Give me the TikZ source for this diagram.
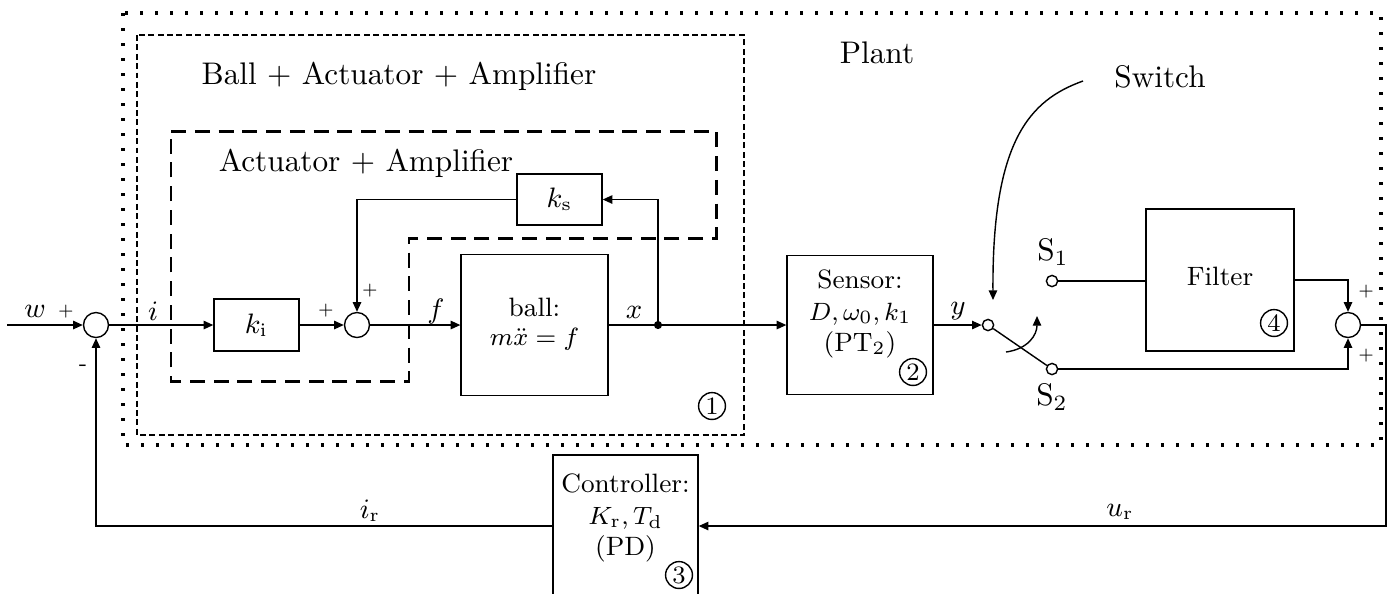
\documentclass[tikz,border=0pt]{standalone}
\usetikzlibrary{arrows.meta}
\begin{document}
\begin{tikzpicture}[x=0.32pt,y=-0.32pt,line width=0.45pt,
  arr/.style={-{Triangle[length=3.1pt,width=2.7pt]}},
  blk/.style={draw, inner sep=0pt},
  sumc/.style={draw, circle, minimum size=8pt, inner sep=0pt},
  port/.style={draw, circle, minimum size=3.6pt, inner sep=0pt, fill=white},
  boxtxt/.style={font=\fontsize{8.5}{10}\selectfont, align=center, inner sep=0pt},
  lbl/.style={font=\fontsize{10}{12}\selectfont, inner sep=0pt},
  sig/.style={font=\fontsize{9}{11}\selectfont, inner sep=0pt},
  pm/.style={font=\fontsize{5.5}{6}\selectfont, inner sep=0pt},
  num/.style={draw, circle, inner sep=0pt, minimum size=8.6pt, font=\fontsize{8}{9}\selectfont},
  dotbox/.style={line width=1pt, dash pattern=on 1pt off 3.8pt},
  thindash/.style={line width=0.35pt, dash pattern=on 1.9pt off 1.1pt},
  thickdash/.style={line width=0.95pt, dash pattern=on 4.8pt off 2.8pt}]
\fill[white] (0,0) rectangle (1393,593);
\useasboundingbox (0,0) rectangle (1393,593);

% grouping frames
\draw[dotbox] (123,13) rectangle (1381,445);
\draw[thindash] (137,35) rectangle (744,435);
\draw[thickdash] (171,131) -- (716,131) -- (716,238) -- (409,238) -- (409,381) -- (171,381) -- cycle;

% region labels
\node[lbl] (tplant) at (877,53) {Plant};
\node[lbl] (tbaa) at (399,76) {Ball $+$ Actuator $+$ Amplifier};
\node[lbl] (taa) at (366,163) {Actuator $+$ Amplifier};
\node[lbl] (tswitch) at (1160,77) {Switch};

% blocks
\node[blk, minimum width=27.2pt, minimum height=16.6pt, font=\fontsize{9}{11}\selectfont] (ki) at (256.5,325) {$k_{\mathrm{i}}$};
\node[blk, minimum width=27.2pt, minimum height=16.3pt, font=\fontsize{9}{11}\selectfont] (ks) at (559.5,199.5) {$k_{\mathrm{s}}$};
\node[blk, minimum width=47pt, minimum height=45.1pt] (ball) at (534.5,325) {};
\node[boxtxt] (balltxt1) at (534.5,307) {ball:};
\node[boxtxt] (balltxt2) at (534.5,339) {$m\ddot{x}=f$};
\node[blk, minimum width=46.7pt, minimum height=44.5pt] (sensor) at (860,325) {};
\node[boxtxt] (sensortxt) at (860,314) {Sensor:\\ $D,\omega_0,k_1$\\ (PT$_2$)};
\node[blk, minimum width=47.4pt, minimum height=45.4pt] (filter) at (1220,280) {};
\node[boxtxt] (filtertxt) at (1220,276) {Filter};
\node[blk, minimum width=46.4pt, minimum height=45.4pt] (ctrl) at (625.5,526) {};
\node[boxtxt] (ctrltxt) at (625.5,518) {Controller:\\ $K_{\mathrm{r}},T_{\mathrm{d}}$\\ (PD)};

% circled numbers
\node[num] (n1) at (712,406) {1};
\node[num] (n2) at (913,372) {2};
\node[num] (n3) at (679,575) {3};
\node[num] (n4) at (1274,323) {4};

% summing points, ports, junction
\node[sumc] (s1) at (96,325) {};
\node[sumc] (s2) at (357,325) {};
\node[sumc] (s3) at (1348,325) {};
\node[port] (p0) at (988,325) {};
\node[port] (pS1) at (1052,281) {};
\node[port] (pS2) at (1052,369) {};
\node[circle, fill, inner sep=0pt, minimum size=2.6pt] (jx) at (658,325) {};
\node[lbl] (tS1) at (1053,252) {S$_1$};
\node[lbl] (tS2) at (1052,397) {S$_2$};

\coordinate (win) at (7,325);
\coordinate (rc) at (1386,325);
\coordinate (swstart) at (1083,81);
\coordinate (swend) at (993,300);
\coordinate (tgA) at (1006,352);
\coordinate (tgB) at (1037,316);

% connectors
\draw[arr] (win) -- (s1.west);
\draw[arr] (s1.east) -- (ki.west);
\draw[arr] (ki.east) -- (s2.west);
\draw[arr] (s2.east) -- (ball.west);
\draw[arr] (ball.east) -- (sensor.west);
\draw[arr] (jx.center) |- (ks.east);
\draw[arr] (ks.west) -| (s2.north);
\draw[arr] (sensor.east) -- (p0.west);
\draw (p0) -- (pS2);
\draw (pS1) -- (pS1 -| filter.west);
\draw[arr] (filter.east) -| (s3.north);
\draw[arr] (pS2) -| (s3.south);
\draw[arr] (s3.east) -- (rc) |- (ctrl.east);
\draw[arr] (ctrl.west) -| (s1.south);
\draw[arr] (swstart) .. controls (1030,100) and (992,140) .. (swend);
\draw[arr] (tgA) .. controls (1028,349) and (1037,335) .. (tgB);

% signal labels and signs
\node[sig] (lw) at (35,311) {$w$};
\node[sig] (li) at (153,311) {$i$};
\node[sig] (lf) at (436,311) {$f$};
\node[sig] (lx) at (634,312) {$x$};
\node[sig] (ly) at (958,311) {$y$};
\node[sig] (lur) at (1120,512) {$u_{\mathrm{r}}$};
\node[sig] (lir) at (370,511) {$i_{\mathrm{r}}$};
\node[pm] (pw) at (66,312) {$+$};
\node[pm, font=\fontsize{7}{8}\selectfont] (mr) at (83,368) {-};
\node[pm] (pk) at (326,311) {$+$};
\node[pm] (pks) at (370,291) {$+$};
\node[pm] (pf) at (1366,292) {$+$};
\node[pm] (pd) at (1366,356) {$+$};
\end{tikzpicture}
\end{document}
